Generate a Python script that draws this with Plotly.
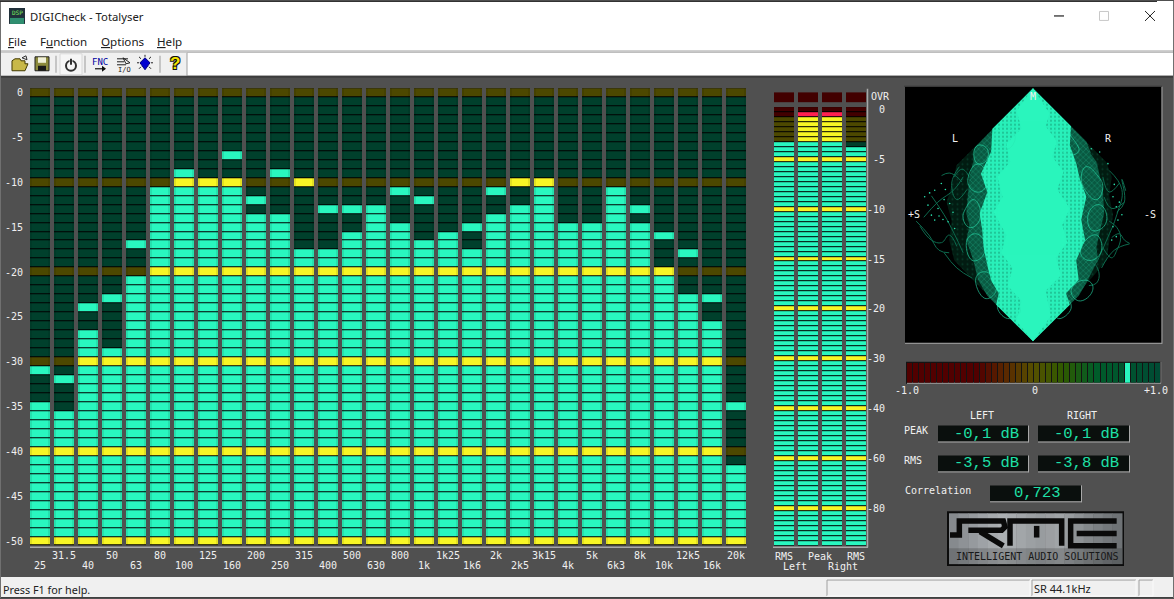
import plotly.graph_objects as go

W = 1174
H = 599

# spectrum, one value per band, in dB (1 dB = 1 segment)
bands = ["25", "31.5", "40", "50", "63", "80", "100", "125", "160", "200", "250", "315", "400", "500", "630",
         "800", "1k", "1k25", "1k6", "2k", "2k5", "3k15", "4k", "5k", "6k3", "8k", "10k", "12k5", "16k", "20k"]
level_db = [-35, -36, -27, -29, -21, -11, -10, -10, -10, -14, -14, -18, -18, -16, -13,
            -15, -17, -16, -18, -14, -13, -11, -15, -15, -11, -15, -20, -23, -26, -42]
peak_db = [-31, -32, -24, -23, -17, -11, -9, -10, -7, -12, -9, -10, -13, -13, -13,
           -11, -12, -16, -15, -11, -10, -10, -15, -15, -11, -13, -16, -18, -23, -35]
db_ticks = [0, -5, -10, -15, -20, -25, -30, -35, -40, -45, -50]

# level meter, top lit segment of each column
meter_names = ["RMS L", "Peak L", "Peak R", "RMS R"]
meter_top = [7, 1, 1, 8]
meter_ticks = [0, 10, 20, 30, 40, 50, 60, 70, 80]
meter_labels = ["0", "-5", "-10", "-15", "-20", "-30", "-40", "-60", "-80"]

correlation = 0.723

# vectorscope outlines, (S, M) with the diamond corners at 1
outer_s = [0, .577, .62, .6, .63, .6, .58, .472, 0, -.499, -.62, -.66, -.64, -.68, -.62, -.604, 0]
outer_m = [1, .417, .3, .15, .0, -.2, -.36, -.488, -1, -.488, -.36, -.2, -.05, .1, .3, .39, 1]
mid_s = [0, .42, .46, .44, .5, .53, .55, .56, .5, .51, .42, .36, 0, -.36, -.433, -.47, -.525, -.5, -.525, -.5, -.47, -.46, 0]
mid_m = [1, .58, .48, .5, .42, .3, .2, .01, -.25, -.36, -.54, -.64, -1, -.64, -.514, -.36, -.2, -.08, .01, .3, .42, .53, 1]
bright_s = [0, .3, .29, .341, .37, .42, .38, .41, .34, .36, .26, .29, 0, -.29, -.27, -.33, -.36, -.39, -.4, -.42, -.36, -.41, -.33, -.32, 0]
bright_m = [1, .7, .55, .404, .28, .142, -.04, -.2, -.36, -.514, -.62, -.71, -1, -.71, -.62, -.52, -.4, -.252, -.12, .01, .18, .325, .5, .68, 1]
core_s = [0, .13, .1, .19, .15, .24, .19, .29, .23, .27, .18, .22, .1, .14, 0, -.13, -.09, -.2, -.16, -.25, -.21, -.31, -.24, -.28, -.18, -.21, -.09, -.13, 0]
core_m = [1, .8, .7, .58, .46, .34, .2, .05, -.08, -.22, -.34, -.48, -.6, -.8, -1, -.84, -.68, -.56, -.42, -.3, -.16, .02, .14, .3, .42, .56, .68, .82, 1]
dots_s = [-.853, -.827, -.80, -.774, -.722, -.774, -.814, -.748, -.709, -.669, -.656, -.617, -.7, -.74, -.69, -.63,
          .63, .656, .669, .63, .59, .525, .459, .656, .68, .7, .64, .62]
dots_m = [.142, .076, -.003, -.042, .247, .194, .173, .05, -.037, -.055, .089, -.108, .12, -.01, .2, .02,
          .142, .063, -.042, -.094, .404, .496, .522, -.173, .1, .0, .24, -.2]
bright_curve_s = [-.433, -.467, -.433, -.367, -.362, -.433, None,
                  -.5, -.44, -.38, -.36, -.42, -.5, -.5, None,
                  -.53, -.47, -.42, -.43, -.5, -.55, -.53, None,
                  -.52, -.45, -.38, -.4, -.48, -.52, None,
                  -.45, -.38, -.3, -.3, -.38, -.45, None,
                  .42, .5, .55, .5, .42, .38, .42, None,
                  .44, .52, .58, .55, .46, .44, None,
                  .4, .5, .54, .46, .38, .4, None,
                  .3, .38, .46, .46, .36, .3, None,
                  -.3, -.22, -.14, -.2, -.3, None,
                  .2, .3, .36, .26, .18, .2, None,
                  -.28, -.18, -.1, -.2, -.28, None,
                  .16, .26, .3, .2, .16]
bright_curve_m = [.549, .483, .404, .43, .522, .549, None,
                  .33, .4, .36, .25, .18, .22, .33, None,
                  .05, .12, .06, -.06, -.1, -.03, .05, None,
                  -.2, -.15, -.22, -.33, -.36, -.2, None,
                  -.5, -.45, -.52, -.62, -.66, -.5, None,
                  .38, .32, .22, .12, .18, .3, .38, None,
                  .02, .08, .0, -.1, -.12, .02, None,
                  -.22, -.16, -.28, -.36, -.32, -.22, None,
                  -.6, -.52, -.54, -.62, -.68, -.6, None,
                  .62, .7, .62, .52, .62, None,
                  .72, .62, .5, .48, .6, .72, None,
                  -.72, -.66, -.76, -.82, -.72, None,
                  -.72, -.66, -.74, -.82, -.72]
dark_curve_s = [.761, .72, .68, .62, None, -.89, -.8, -.72, -.66, -.6, None, .55, .62, .66, .69, .66, .6, None,
                -.62, -.56, -.5, -.46, -.52, None, .42, .47, .52, .5, .44, None, -.72, -.66, -.6, -.56, None,
                -.86, -.75, -.62, -.55, None, -.8, -.7, -.62, -.55, None, -.7, -.6, -.48, None,
                .6, .7, .66, .58, .5, None, .72, .62, .56, None, .76, .64, .54, None,
                .73, .7, .72, .66, None, .68, .6, .55, None, -.92, -.82, -.74, -.66, None, -.58, -.64, -.6, -.52]
dark_curve_m = [-.226, -.2, -.15, -.18, None, -.09, -.2, -.22, -.16, -.25, None, -.26, -.34, -.28, -.18, -.1, -.05, None,
                .3, .36, .3, .2, .12, None, -.42, -.38, -.46, -.54, -.56, None, .31, .33, .3, .26, None,
                -.02, .1, .2, .3, None, .15, .0, -.15, -.3, None, -.3, -.42, -.5, None,
                .35, .2, .0, -.2, -.38, None, .1, .05, .14, None, -.23, -.28, -.42, None,
                .19, .28, .1, .02, None, .25, .18, .3, None, -.05, -.16, -.28, -.3, None, .38, .25, .12, .2]

bg = "#505050"
dark_green = "#00402c"
cyan = "#29f7bf"
dark_yellow = "#4c4800"
yellow = "#f8f625"
dark_red = "#420000"
red = "#ff2050"
state_scale = [[0, dark_green], [.2, cyan], [.4, dark_yellow], [.6, yellow], [.8, dark_red], [1, red]]
mono = "DejaVu Sans Mono"
ui = "Noto Sans"

shapes = []
notes = []


def px(x):
    return x / W


def py(y):
    return 1 - y / H


def rect(x0, y0, x1, y1, color, layer="below", line=None):
    shapes.append(dict(type="rect", xref="paper", yref="paper", x0=px(x0), x1=px(x1), y0=py(y0), y1=py(y1),
                       fillcolor=color, layer=layer, line=dict(width=1 if line else 0, color=line or color)))


def seg(x0, y0, x1, y1, color, width=1, layer="below"):
    shapes.append(dict(type="line", xref="paper", yref="paper", x0=px(x0), x1=px(x1), y0=py(y0), y1=py(y1),
                       layer=layer, line=dict(width=width, color=color)))


def poly(points, color=None, line=None, width=1, layer="above", closed=True):
    d = "M " + " L ".join(f"{px(a):.5f} {py(b):.5f}" for a, b in points) + (" Z" if closed else "")
    shapes.append(dict(type="path", path=d, xref="paper", yref="paper", layer=layer,
                       fillcolor=color or "rgba(0,0,0,0)", line=dict(width=width, color=line or "rgba(0,0,0,0)")))


def text(x, y, s, size=10, color="#f0f0f0", font=mono, anchor="center", shadow=None):
    f = dict(size=size, color=color, family=font)
    if shadow:
        f["shadow"] = shadow
    notes.append(dict(x=px(x), y=py(y), xref="paper", yref="paper", text=s, showarrow=False, xanchor=anchor,
                      yanchor="middle", font=f, borderpad=0, borderwidth=0))


def dom_x(a, b):
    return [a / W, b / W]


def dom_y(a, b):
    return [1 - b / H, 1 - a / H]


def sunken(a, b, c, d):
    seg(a, b, c, b, "#a0a0a0")
    seg(a, b, a, d, "#a0a0a0")
    seg(a, d, c, d, "#fafafa")
    seg(c, b, c, d, "#fafafa")


# window furniture
rect(0, 0, W, H, bg)
rect(0, 0, W, 50, "white")
rect(0, 50, W, 52, "#c8c8c8")
rect(0, 52, W, 75, "white")
rect(0, 52, 187, 75, "#f0f0f0")
seg(187, 52, 187, 75, "#a0a0a0")
rect(0, 75, W, 77, "#3c3c3c")
rect(0, 578, W, H, "#f0f0f0")
seg(0, 598.5, W, 598.5, "#404040")
seg(0.5, 0, 0.5, H, "#707070")
seg(W - 0.5, 0, W - 0.5, H, "#707070")
seg(0, 0.5, 1157, 0.5, "#303030")
sunken(827, 581, 1030, 597)
sunken(1032, 581, 1136, 597)
sunken(1139, 581, 1153, 597)

# title bar and menu
rect(9, 7, 25, 23, "#20303a")
rect(10, 17, 24, 23, "#2f8f70")
text(17, 12, "DSP", size=6, color="#7cf060")
text(30, 16, "DIGICheck - Totalyser", size=11.3, color="#202020", font=ui, anchor="left")
seg(1054, 15, 1064, 15, "#202020", 1.2)
rect(1099.5, 10.5, 1108.5, 19.5, "white", line="#c8c8c8")
seg(1145, 10, 1155, 20, "#202020", 1)
seg(1155, 10, 1145, 20, "#202020", 1)
for x0, s in [(8, "<u>F</u>ile"), (40, "F<u>u</u>nction"), (101, "<u>O</u>ptions"), (157, "<u>H</u>elp")]:
    text(x0, 41, s, size=11.6, color="#202020", font=ui, anchor="left")

# toolbar icons
for x0 in [56, 85, 160]:
    seg(x0, 55, x0, 72, "#a8a8a8", 1.2)
poly([(12, 70), (12, 60), (15, 58), (20, 58), (21, 60), (25, 60), (25, 63), (28, 63), (25, 70)], "#c8b848", "#403800")
poly([(22, 57), (26, 55), (27, 59)], None, "#303030", 1)
rect(35, 56, 49, 70, "#8c8a3c", "above", "#202020")
rect(38, 56.5, 46, 62, "#f0f0d8", "above")
rect(38, 65, 46, 70, "#181818", "above")
rect(60, 53, 82, 74, "#f6f6f6", line="#d8d8d8")
shapes.append(dict(type="circle", xref="paper", yref="paper", x0=px(66), x1=px(76), y0=py(60), y1=py(70),
                   layer="above", line=dict(width=2, color="#303030")))
rect(69.5, 57, 72.5, 65, "#f6f6f6", "above")
seg(71, 58, 71, 64, "#303030", 2, "above")
text(100, 61, "FNC", size=9, color="#0000a0")
seg(95, 68, 105, 68, "#101010", 1.2, "above")
poly([(102, 65), (106, 68), (102, 71)], "#101010")
for yy, xx in [(58, 128), (61, 124), (64, 126)]:
    seg(117, yy, xx, yy, "#202020", 1, "above")
poly([(123, 57), (130, 62), (126, 63)], None, "#202020")
text(124, 69, "I/O", size=7, color="#202020")
poly([(145, 57), (150, 62), (145, 69), (140, 62)], "#0000d0", "#000080")
for a, b, c, d in [(145, 54, 145, 56), (137, 62, 139, 62), (151, 62, 153, 62), (139, 56, 141, 58),
                   (151, 56, 149, 58), (139, 68, 141, 66), (151, 68, 149, 66)]:
    seg(a, b, c, d, "#202020", 1, "above")
text(175, 63, "<b>?</b>", size=17, color="#f4e400", font="Liberation Sans",
     shadow="1px 1px 0 #101010, -1px -1px 0 #101010, 1px -1px 0 #101010, -1px 1px 0 #101010")

text(3, 590, "Press F1 for help.", size=10.8, color="#202020", font=ui, anchor="left")
text(1034, 589, "SR 44.1kHz", size=11, color="#202020", font=ui, anchor="left")

# frame lines around the meters
seg(30, 548, 747, 548, "#a8a8a8", 1.5)
seg(773, 548, 868, 548, "#a8a8a8", 1.5)
seg(867.5, 88, 867.5, 548, "#a8a8a8", 1.5)

# spectrum
rows = list(range(0, -51, -1))
z = []
for r in rows:
    row = []
    for lv, pk in zip(level_db, peak_db):
        lit = r <= lv or r == pk
        if r % 10 == 0:
            row.append(.6 if lit else .4)
        else:
            row.append(.2 if lit else 0)
    z.append(row)
xs = list(range(len(bands)))
fig = go.Figure()
fig.add_trace(go.Heatmap(z=[[0] * len(bands)] * len(rows), x=xs, y=rows, xgap=4, ygap=0, showscale=False,
                         colorscale=[[0, "black"], [1, "black"]], zmin=0, zmax=1, hoverinfo="skip"))
fig.add_trace(go.Heatmap(z=z, x=xs, y=rows, xgap=4, ygap=1, showscale=False, colorscale=state_scale,
                         zmin=0, zmax=1, hoverinfo="skip"))
for off in [-0.375, 0.375]:
    fig.add_trace(go.Bar(x=[i + off for i in xs], y=[51] * len(xs), base=[-50.5] * len(xs), width=2 / 24,
                         marker=dict(color="rgba(0,0,0,0.09)", line=dict(width=0)), hoverinfo="skip"))
for i, b in enumerate(bands):
    notes.append(dict(x=i, xref="x", y=py(566 if i % 2 == 0 else 556), yref="paper", text=b, showarrow=False,
                      yanchor="middle", font=dict(size=10, color="#f0f0f0", family=mono)))

# level meter
mrows = list(range(88))
mz = []
for r in mrows:
    row = []
    for top in meter_top:
        lit = r >= top
        if r < 2:
            row.append(1 if lit else .8)
        elif r < 7:
            row.append(.6 if lit else .4)
        elif r % 10 == 0:
            row.append(.6)
        else:
            row.append(.2 if lit else 0)
    mz.append(row)
mx = list(range(4))
fig.add_trace(go.Heatmap(z=[[0] * 4] * 88, x=mx, y=mrows, xgap=4, ygap=0, showscale=False, xaxis="x2", yaxis="y2",
                         colorscale=[[0, "black"], [1, "black"]], zmin=0, zmax=1, hoverinfo="skip"))
fig.add_trace(go.Heatmap(z=mz, x=mx, y=mrows, xgap=4, ygap=1, showscale=False, colorscale=state_scale, xaxis="x2",
                         yaxis="y2", zmin=0, zmax=1, hoverinfo="skip"))
fig.add_trace(go.Heatmap(z=[[.8] * 4] * 2, x=mx, y=[-3, -2], xgap=4, ygap=0, showscale=False, colorscale=state_scale,
                         xaxis="x2", yaxis="y2", zmin=0, zmax=1, hoverinfo="skip"))
for v, s in zip(meter_ticks, meter_labels):
    notes.append(dict(x=px(887), xref="paper", y=v, yref="y2", text=s, showarrow=False, xanchor="right",
                      yanchor="middle", font=dict(size=10, color="#f0f0f0", family=mono)))
text(880, 96, "OVR")
text(783.5, 557, "RMS")
text(819.5, 557, "Peak")
text(855.5, 557, "RMS")
text(795, 567, "Left")
text(843, 567, "Right")

# vectorscope
rect(905, 86, 1161.5, 343, "black")
seg(905, 343.5, 1162, 343.5, "#a0a0a0", 1)
seg(1162, 86, 1162, 344, "#a0a0a0", 1)
seg(904, 85.5, 1162, 85.5, "#3a3a3a", 1)
fig.add_trace(go.Scatter(x=outer_s, y=outer_m, mode="lines", fill="toself", line=dict(width=0), xaxis="x3", yaxis="y3",
                         fillpattern=dict(shape=".", size=5, solidity=.12, fgcolor="#0a5a40", bgcolor="#021c12"),
                         hoverinfo="skip"))
fig.add_trace(go.Scatter(x=dark_curve_s, y=dark_curve_m, mode="lines", xaxis="x3", yaxis="y3", hoverinfo="skip",
                         line=dict(width=1, color="#0d6a4e", shape="spline", smoothing=1.2)))
fig.add_trace(go.Scatter(x=mid_s, y=mid_m, mode="lines", fill="toself", line=dict(width=0), xaxis="x3", yaxis="y3",
                         fillpattern=dict(shape="x", size=4, solidity=.3, fgcolor="#1ea884", bgcolor="#0a5a42"),
                         hoverinfo="skip"))
fig.add_trace(go.Scatter(x=bright_s, y=bright_m, mode="lines", fill="toself", line=dict(width=0), xaxis="x3", yaxis="y3",
                         fillpattern=dict(shape=".", size=4, solidity=.22, fgcolor="#0f8a66", bgcolor="#29f0ba"),
                         hoverinfo="skip"))
fig.add_trace(go.Scatter(x=core_s, y=core_m, mode="lines", fill="toself", line=dict(width=0), xaxis="x3", yaxis="y3",
                         fillcolor="#2af5bd", hoverinfo="skip"))
fig.add_trace(go.Scatter(x=bright_curve_s, y=bright_curve_m, mode="lines", xaxis="x3", yaxis="y3", hoverinfo="skip",
                         opacity=.75, line=dict(width=.8, color="#2ae8b4", shape="spline", smoothing=1.3)))
fig.add_trace(go.Scatter(x=dots_s, y=dots_m, mode="markers", marker=dict(size=1.6, color="#29e0ac"), xaxis="x3",
                         yaxis="y3", hoverinfo="skip"))
text(1033, 96, "M")
text(955, 138, "L")
text(1108, 138, "R")
text(914, 214, "+S")
text(1150, 214, "-S")

# correlation bar
n_corr = 42
cx = [-1 + (i + .5) * 2 / n_corr for i in range(n_corr)]
lit_i = int((correlation + 1) / 2 * n_corr)
fig.add_trace(go.Heatmap(z=[cx], x=cx, y=[0], xgap=1, showscale=False, zmin=-1, zmax=1, xaxis="x4", yaxis="y4",
                         colorscale=[[0, "#520000"], [.28, "#520000"], [.4, "#5a2c00"], [.5, "#565000"],
                                     [.62, "#2e5a00"], [.75, "#005c2a"], [1, "#004a34"]], hoverinfo="skip"))
fig.add_trace(go.Heatmap(z=[[1 if i == lit_i else None for i in range(n_corr)]], x=cx, y=[0], xgap=1, showscale=False,
                         xaxis="x4", yaxis="y4", colorscale=[[0, cyan], [1, cyan]], hoverinfo="skip"))
rect(906, 362, 1161.5, 384, "#141414")
seg(907, 383.5, 1161, 383.5, "#b8b8b8", 1)
seg(1161, 362, 1161, 384, "#8c8c8c", 1)
text(907, 391, "-1.0")
text(1035, 391, "0")
text(1156, 391, "+1.0")

# read outs
text(982, 416, "LEFT")
text(1082, 416, "RIGHT")
text(904, 431, "PEAK", anchor="left")
text(904, 461, "RMS", anchor="left")
text(905, 491, "Correlation", anchor="left")
boxes = [(938, 426, 1028, 442, "-0,1 dB", 1019), (1038, 426, 1129, 442, "-0,1 dB", 1119),
         (938, 456, 1028, 472, "-3,5 dB", 1019), (1038, 456, 1129, 472, "-3,8 dB", 1119),
         (990, 486, 1081, 502, "0,723", 1061)]
for a, b, c, d, s, tx in boxes:
    rect(a, b, c, d, "#0a0f0d")
    seg(a, d + .5, c + .5, d + .5, "#a8a8a8", 1)
    seg(c + .5, b, c + .5, d + 1, "#a8a8a8", 1)
    text(tx, (b + d) / 2, s, size=15.5, color="#1fe0a8", font="Liberation Mono", anchor="right")

# RME logo
rect(947, 512, 1124, 567, "#0c0c0c")
grey = ["#868a8e", "#8e9296", "#969a9e", "#9ea2a6", "#a6aaad", "#acb0b3", "#a8acaf", "#a2a6a9", "#9ca0a3",
        "#989c9f", "#9c9fa2", "#a0a4a7", "#989c9f", "#8e9295", "#84888b", "#7c8083", "#74787b", "#6e7275"]
step = (1122 - 949) / len(grey)
for i, c in enumerate(grey):
    rect(949 + i * step, 514, 949 + (i + 1) * step + .5, 565, c)
rect(949, 549, 1122, 565, "rgba(30,30,30,0.22)")
logo_x = lambda v: 940 + v / 3
logo_y = lambda v: 505 + v / 3
strokes = [[(30, 92), (58, 92), (58, 50), (190, 50), (195, 68), (185, 78), (85, 78)],
           [(120, 82), (190, 125)],
           [(210, 125), (210, 50), (365, 50), (365, 125)],
           [(290, 65), (290, 100)],
           [(530, 50), (392, 50), (392, 125), (530, 125)],
           [(410, 88), (530, 88)]]
for st in strokes:
    poly([(logo_x(a), logo_y(b)) for a, b in st], None, "#0a0a0a", 5.5, closed=False)
text(1037, 557, "INTELLIGENT AUDIO SOLUTIONS", size=10, color="#181818")

axis_off = dict(visible=False, fixedrange=True)
fig.update_layout(
    width=W, height=H, autosize=False, margin=dict(l=0, r=0, t=0, b=0),
    paper_bgcolor=bg, plot_bgcolor="rgba(0,0,0,0)", showlegend=False, barmode="overlay", bargap=0,
    shapes=shapes, annotations=notes,
    xaxis=dict(axis_off, domain=dom_x(28, 748), range=[-.5, 29.5]),
    yaxis=dict(domain=dom_y(87.5, 546.5), range=[-50.5, .5], tickvals=db_ticks, ticktext=[str(v) for v in db_ticks],
               ticks="outside", ticklen=2, tickcolor="rgba(0,0,0,0)", showgrid=False, zeroline=False, showline=False,
               tickfont=dict(size=10, color="#f0f0f0", family=mono), fixedrange=True),
    xaxis2=dict(axis_off, domain=dom_x(772, 868), range=[-.5, 3.5]),
    yaxis2=dict(axis_off, domain=dom_y(91.5, 546.5), range=[87.5, -3.5]),
    xaxis3=dict(axis_off, domain=dom_x(905, 1161), range=[-1.008, 1.008]),
    yaxis3=dict(axis_off, domain=dom_y(86, 343), range=[-1.012, 1.012]),
    xaxis4=dict(axis_off, domain=dom_x(907, 1161), range=[-1, 1]),
    yaxis4=dict(axis_off, domain=dom_y(363, 383), range=[-.5, .5]),
)
fig.write_html("out.html", config=dict(displayModeBar=False),
               post_script="document.body.style.margin='0';document.body.style.overflow='hidden';")
